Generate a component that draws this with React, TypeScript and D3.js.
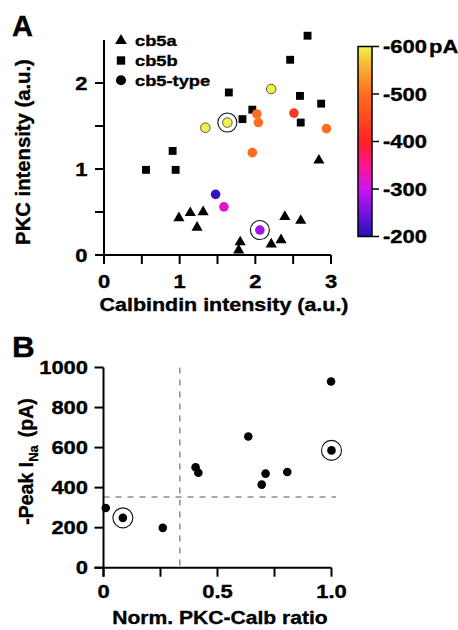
import React from "react";
import * as d3 from "d3";

// ---------- Panel A data ----------
// cb5a (triangles): [calbindin, PKC]
const cb5a: [number, number][] = [
  [0.99, 0.43], [1.14, 0.49], [1.31, 0.5], [1.23, 0.32], [2.84, 1.1],
  [2.39, 0.445], [2.6, 0.4], [2.34, 0.175], [2.21, 0.125], [1.8, 0.15], [1.78, 0.055],
];
// cb5b (squares)
const cb5b: [number, number][] = [
  [0.555, 0.99], [0.907, 1.21], [0.947, 0.99], [1.65, 1.89], [2.69, 2.55],
  [2.46, 2.27], [2.59, 1.85], [1.96, 1.69], [1.83, 1.58], [2.87, 1.76], [2.6, 1.54],
];
// cb5-type (circles): [calbindin, PKC, peak current pA, circled]
const cb5type: [number, number, number, boolean][] = [
  [1.34, 1.48, -600, false], [1.63, 1.54, -600, true], [2.21, 1.93, -600, false],
  [2.02, 1.64, -500, false], [2.04, 1.54, -500, false], [2.51, 1.65, -425, false],
  [2.94, 1.47, -500, false], [1.96, 1.19, -495, false], [1.475, 0.705, -212, false],
  [1.585, 0.56, -318, false], [2.06, 0.29, -275, true],
];
const xTicksA = [0, 0.5, 1, 1.5, 2, 2.5, 3];
const xLabelsA = [0, 1, 2, 3];
const yTicksA = [0, 0.5, 1, 1.5, 2];
const yLabelsA = [0, 1, 2];
const legendItems = ["cb5a", "cb5b", "cb5-type"];

// colour bar
const cbValues = [-200, -250, -300, -350, -400, -450, -500, -550, -600];
const cbColors = ["#2412b4", "#7412e2", "#d014f0", "#ff1490", "#ff2222", "#ff4a20", "#ff6e20", "#f8a830", "#eef24a"];
const cbTicks = [-600, -500, -400, -300, -200];

// ---------- Panel B data ----------
const ratioB = [0.01, 0.085, 0.26, 0.404, 0.416, 0.635, 0.694, 0.711, 0.806, 0.998, 1.0];
const peakB = [298, 249, 199, 502, 474, 655, 415, 470, 478, 930, 586];
const circledB = [false, true, false, false, false, false, false, false, false, false, true];
const xTicksB = [0, 0.25, 0.5, 0.75, 1];
const xLabelsB: [number, string][] = [[0, "0"], [0.5, "0.5"], [1, "1.0"]];
const yTicksB = [0, 200, 400, 600, 800, 1000];
const threshX = 0.335;
const threshY = 353;

const FONT = "'Liberation Sans', Arial, Helvetica, sans-serif";

function T(props: {
  x: number; y: number; children: React.ReactNode; anchor?: string; size?: number;
  sx?: number; rotate?: number;
}) {
  const { x, y, children, anchor = "start", size = 18, sx = 1, rotate = 0 } = props;
  return (
    <text
      transform={`translate(${x},${y}) rotate(${rotate}) scale(${sx},1)`}
      textAnchor={anchor as any}
      fontSize={size}
      fontWeight="bold"
      fontFamily={FONT}
      fill="#000"
      stroke="#000"
      strokeWidth={0.35}
    >
      {children}
    </text>
  );
}

export default function App() {
  // Panel A scales
  const xA = d3.scaleLinear().domain([0, 3]).range([104, 331]);
  const yA = d3.scaleLinear().domain([0, 2.5]).range([255, 40]);
  const cScale = d3.scaleLinear<string>().domain(cbValues).range(cbColors).interpolate(d3.interpolateRgb);
  const cbY = d3.scaleLinear().domain([-200, -600]).range([236.5, 46.5]);
  const cbX0 = 358, cbX1 = 372;

  // Panel B scales
  const xB = d3.scaleLinear().domain([0, 1]).range([103.5, 331.5]);
  const yB = d3.scaleLinear().domain([0, 1000]).range([567.7, 367.5]);

  const tri = d3.symbol(d3.symbolTriangle, 54)()!;
  const triLeg = d3.symbol(d3.symbolTriangle, 60)()!;
  const sq = d3.symbol(d3.symbolSquare, 62)()!;
  const sqLeg = d3.symbol(d3.symbolSquare, 70)()!;
  const dotLeg = d3.symbol(d3.symbolCircle, 80)()!;

  const tickLen = 9;
  const axisW = 2;
  const tickSx = 1.22;

  return (
    <svg width={458} height={630} style={{ position: "absolute", left: 0, top: 0 }}>
      <defs>
        <linearGradient id="cbgrad" x1="0" y1="1" x2="0" y2="0">
          {cbValues.map((v, i) => (
            <stop key={i} offset={`${(i / (cbValues.length - 1)) * 100}%`} stopColor={cbColors[i]} />
          ))}
        </linearGradient>
      </defs>
      <rect width={458} height={630} fill="#fff" />

      {/* ===== Panel A ===== */}
      <T x={12} y={36} size={29}>A</T>

      {/* axes */}
      <line x1={xA(0)} x2={xA(0)} y1={yA(0) + tickLen} y2={yA(2.5)} stroke="#000" strokeWidth={axisW} />
      <line x1={xA(0) - tickLen} x2={xA(3)} y1={yA(0)} y2={yA(0)} stroke="#000" strokeWidth={axisW} />
      {xTicksA.map((t) => (
        <line key={"xa" + t} x1={xA(t)} x2={xA(t)} y1={yA(0)} y2={yA(0) + tickLen} stroke="#000" strokeWidth={axisW} />
      ))}
      {yTicksA.map((t) => (
        <line key={"ya" + t} x1={xA(0) - tickLen} x2={xA(0)} y1={yA(t)} y2={yA(t)} stroke="#000" strokeWidth={axisW} />
      ))}
      {xLabelsA.map((t) => (
        <T key={"xla" + t} x={xA(t)} y={287.5} anchor="middle" size={18} sx={tickSx}>{t}</T>
      ))}
      {yLabelsA.map((t) => (
        <T key={"yla" + t} x={87.5} y={yA(t) + 6.5} anchor="end" size={18} sx={tickSx}>{t}</T>
      ))}
      <T x={224} y={311} anchor="middle" size={18.5} sx={1.16}>Calbindin intensity (a.u.)</T>
      <T x={29.5} y={152} anchor="middle" size={19.5} rotate={-90} sx={1.04}>PKC intensity (a.u.)</T>

      {/* legend */}
      {legendItems.map((name, i) => {
        const cy = 40.7 + i * 19.8;
        const path = i === 0 ? triLeg : i === 1 ? sqLeg : dotLeg;
        return (
          <g key={name}>
            <path d={path} transform={`translate(121,${cy})`} fill="#000" />
            <T x={135} y={cy + 5.2} size={15.5} sx={1.18}>{name}</T>
          </g>
        );
      })}

      {/* data */}
      {cb5b.map(([x, y], i) => (
        <path key={"sq" + i} d={sq} transform={`translate(${xA(x)},${yA(y)})`} fill="#000" />
      ))}
      {cb5a.map(([x, y], i) => (
        <path key={"tr" + i} d={tri} transform={`translate(${xA(x)},${yA(y)})`} fill="#000" />
      ))}
      {cb5type.map(([x, y, c, ring], i) => (
        <g key={"ci" + i}>
          <circle
            cx={xA(x)} cy={yA(y)} r={4.8} fill={cScale(c)}
            stroke={c <= -580 ? "#333" : "none"} strokeWidth={0.8}
          />
          {ring && <circle cx={xA(x)} cy={yA(y)} r={9.5} fill="none" stroke="#111" strokeWidth={1.1} />}
        </g>
      ))}

      {/* colour bar */}
      <rect x={cbX0} y={cbY(-600)} width={cbX1 - cbX0} height={cbY(-200) - cbY(-600)} fill="url(#cbgrad)" stroke="#000" strokeWidth={1.5} />
      {cbTicks.map((t) => (
        <g key={"cb" + t}>
          <line x1={cbX1} x2={cbX1 + 7} y1={cbY(t)} y2={cbY(t)} stroke="#000" strokeWidth={1.5} />
          <T x={383} y={cbY(t) + 6.5} size={18} sx={1.22}>{t}</T>
        </g>
      ))}
      <T x={429} y={cbY(-600) + 6.5} size={18} sx={1.22}>pA</T>

      {/* ===== Panel B ===== */}
      <T x={12} y={357} size={30} sx={1.05}>B</T>

      <line x1={xB(threshX)} x2={xB(threshX)} y1={yB(1000)} y2={yB(0)} stroke="#555" strokeWidth={1} strokeDasharray="6,6" />
      <line x1={xB(0)} x2={xB(1.02)} y1={yB(threshY)} y2={yB(threshY)} stroke="#555" strokeWidth={1} strokeDasharray="6,6" />

      <line x1={xB(0)} x2={xB(0)} y1={yB(0) + tickLen} y2={yB(1000)} stroke="#000" strokeWidth={axisW} />
      <line x1={xB(0) - tickLen} x2={xB(1)} y1={yB(0)} y2={yB(0)} stroke="#000" strokeWidth={axisW} />
      {xTicksB.map((t) => (
        <line key={"xb" + t} x1={xB(t)} x2={xB(t)} y1={yB(0)} y2={yB(0) + tickLen} stroke="#000" strokeWidth={axisW} />
      ))}
      {yTicksB.map((t) => (
        <line key={"yb" + t} x1={xB(0) - tickLen} x2={xB(0)} y1={yB(t)} y2={yB(t)} stroke="#000" strokeWidth={axisW} />
      ))}
      {xLabelsB.map(([t, s]) => (
        <T key={"xlb" + t} x={xB(t)} y={597.5} anchor="middle" size={18} sx={tickSx}>{s}</T>
      ))}
      {yTicksB.map((t) => (
        <T key={"ylb" + t} x={88} y={yB(t) + 6.5} anchor="end" size={18} sx={tickSx}>{t}</T>
      ))}
      <T x={220} y={623.5} anchor="middle" size={18.5} sx={1.14}>Norm. PKC-Calb ratio</T>
      <text
        transform={`translate(33,461.5) rotate(-90)`}
        textAnchor="middle"
        fontSize={19.5}
        fontWeight="bold"
        fontFamily={FONT}
        stroke="#000"
        strokeWidth={0.35}
      >
        -Peak I<tspan fontSize={13} dy={5}>Na</tspan>
        <tspan dy={-5} dx={8}>(pA)</tspan>
      </text>

      {ratioB.map((r, i) => (
        <g key={"b" + i}>
          <circle cx={xB(r)} cy={yB(peakB[i])} r={4.3} fill="#000" />
          {circledB[i] && <circle cx={xB(r)} cy={yB(peakB[i])} r={10} fill="none" stroke="#111" strokeWidth={1.1} />}
        </g>
      ))}
    </svg>
  );
}
